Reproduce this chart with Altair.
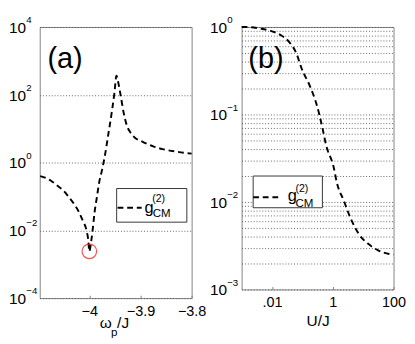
import altair as alt
import pandas as pd

# ---------------- data ----------------
# panel (a): g2 vs omega_p/J
wa_x = [-4.096, -4.085, -4.075, -4.063, -4.051, -4.04, -4.03, -4.0205, -4.012, -4.0055,
        -4.002, -4.0, -3.998, -3.9964, -3.993, -3.99, -3.985, -3.981, -3.975, -3.969,
        -3.963, -3.957, -3.951, -3.947, -3.944, -3.939, -3.933, -3.927, -3.919, -3.911,
        -3.9, -3.893, -3.875, -3.857, -3.83, -3.8]
wa_y = [0.40, 0.35, 0.29, 0.21, 0.15, 0.095, 0.06, 0.035, 0.018, 0.010,
        0.005, 0.0024, 0.0032, 0.0047, 0.012, 0.032, 0.1, 0.25, 0.62, 1.8,
        6.7, 25, 112, 365, 250, 100, 30, 12.8, 7.5, 5.4,
        4.4, 3.9, 3.0, 2.5, 2.1, 1.83]
circle_x = [-4.0]
circle_y = [0.0024]

# panel (b): g2 vs U/J
ub_x = [0.001, 0.002, 0.004, 0.0083, 0.0192, 0.037, 0.065, 0.093, 0.178, 0.30,
        0.45, 0.60, 1.1, 1.34, 2.27, 3.8, 7.2, 15, 31, 73, 100]
ub_y = [1.0, 0.995, 0.96, 0.91, 0.81, 0.67, 0.49, 0.34, 0.21, 0.127,
        0.072, 0.045, 0.024, 0.017, 0.0105, 0.0066, 0.0043, 0.0033, 0.0028, 0.00254, 0.0025]

# ticks
ya_ticks = [0.0001, 0.01, 1, 100, 10000]
ya_exps = ["−4", "−2", "0", "2", "4"]
xa_ticks = [-4, -3.9, -3.8]
yb_major = [0.001, 0.01, 0.1, 1]
yb_exps = ["−3", "−2", "−1", "0"]
yb_grid = sorted(set([round(k * 10.0 ** e, 6) for e in (-3, -2, -1) for k in range(1, 10)] + [1]))
xb_ticks = [0.01, 1, 100]
xb_labels = [".01", "1", "100"]

legend_main = "g"
legend_sup = "(2)"
legend_sub = "CM"

FONT = "Liberation Sans"
WA, HA = 158, 282
WB, HB = 158, 273


def lab_expr(vals, labs):
    s = "''"
    for v, l in zip(reversed(vals), reversed(labs)):
        s = f"datum.value === {repr(v)} ? '{l}' : ({s})"
    return s


one = pd.DataFrame({"k": [0]})


def txt(text, x, y, size, align="left"):
    return alt.Chart(one).mark_text(text=text, font=FONT, fontSize=size, align=align,
                                    baseline="alphabetic", color="black").encode(
        x=alt.value(x), y=alt.value(y))


def legend_layers(bx, bx2, by, by2, lx, lx2, ly, gx, gy, sx, sy, cx, cy):
    box = alt.Chart(one).mark_rect(fill="white", stroke="#333333", strokeWidth=1).encode(
        x=alt.value(bx), x2=alt.value(bx2), y=alt.value(by), y2=alt.value(by2))
    dash = alt.Chart(one).mark_rule(color="black", strokeWidth=2, strokeDash=[6, 4]).encode(
        x=alt.value(lx), x2=alt.value(lx2), y=alt.value(ly))
    return [box, dash, txt(legend_main, gx, gy, 17), txt(legend_sup, sx, sy, 11),
            txt(legend_sub, cx, cy, 12)]


def ytick_layers(vals, exps, yenc_field, scale, axis, x0):
    d = pd.DataFrame({yenc_field: vals, "e": exps})
    yv = alt.Y(f"{yenc_field}:Q", scale=scale, axis=axis)
    base = alt.Chart(d).mark_text(text="10", font=FONT, fontSize=16, align="left",
                                  baseline="alphabetic", dy=6, color="black").encode(
        x=alt.value(x0), y=yv)
    ex = alt.Chart(d).mark_text(font=FONT, fontSize=10, align="left",
                                baseline="alphabetic", dy=-4, color="black").encode(
        x=alt.value(x0 + 18), y=yv, text="e:N")
    return [base, ex]


# ---------------- panel (a) ----------------
dfa = pd.DataFrame({"x": wa_x, "y": wa_y})
dfc = pd.DataFrame({"x": circle_x, "y": circle_y})
sya = alt.Scale(type="log", domain=[1e-4, 1e4], nice=False)
axya = alt.Axis(values=ya_ticks, labels=False, title=None, grid=True)

xa = alt.X("x:Q", scale=alt.Scale(domain=[-4.097, -3.8], nice=False, zero=False),
           axis=alt.Axis(values=xa_ticks, format="~g", title=None, grid=False,
                         labelFlush=False, offset=-3, ticks=True, tickSize=3,
                         tickColor="#808080", labelPadding=6))
ya = alt.Y("y:Q", scale=sya, axis=axya)

line_a = alt.Chart(dfa).mark_line(color="black", strokeWidth=2, strokeDash=[6, 4],
                                  interpolate="monotone").encode(x=xa, y=ya)
circ = alt.Chart(dfc).mark_point(shape="circle", filled=False, color="red", size=230,
                                 strokeWidth=1.2).encode(x="x:Q", y=ya)

ca = WA / 2
title_a = [txt("ω", ca - 16.5, HA + 31, 16), txt("p", ca - 4.8, HA + 39, 12),
           txt("/J", ca + 1.5, HA + 31, 16)]

panel_a = alt.layer(line_a, circ, txt("(a)", 8, 43, 30),
                    *ytick_layers(ya_ticks, ya_exps, "y", sya, axya, -32),
                    *title_a,
                    *legend_layers(80, 153, 168, 203, 81, 106, 188, 109, 193, 117, 182.5, 117.5, 197.5)
                    ).properties(width=WA, height=HA)

# ---------------- panel (b) ----------------
dfb = pd.DataFrame({"x": ub_x, "y": ub_y})
syb = alt.Scale(type="log", domain=[0.001, 1], nice=False)
axyb = alt.Axis(values=yb_grid, labels=False, title=None, grid=True)
xb = alt.X("x:Q", scale=alt.Scale(type="log", domain=[0.001, 100], nice=False),
           axis=alt.Axis(values=xb_ticks, labelExpr=lab_expr(xb_ticks, xb_labels), title="U/J",
                         grid=False, labelFlush=False, offset=-3, ticks=True, tickSize=3,
                         tickColor="#808080", labelPadding=6, titlePadding=3))
yb = alt.Y("y:Q", scale=syb, axis=axyb)
line_b = alt.Chart(dfb).mark_line(color="black", strokeWidth=2, strokeDash=[6, 4],
                                  interpolate="monotone").encode(x=xb, y=yb)

panel_b = alt.layer(line_b, txt("(b)", 7, 43, 30),
                    *ytick_layers(yb_major, yb_exps, "y", syb, axyb, -33),
                    *legend_layers(12, 84, 155, 188, 12, 39, 177, 48, 181, 56, 172, 56, 187)
                    ).properties(width=WB, height=HB)

chart = alt.hconcat(panel_a, panel_b, spacing=52, bounds="flush").properties(
    padding={"left": 0, "top": 0, "right": 0, "bottom": 0}
).configure_view(stroke="#808080", strokeWidth=1).configure_axis(
    domain=False, ticks=False, labelFont=FONT, labelFontSize=15, labelColor="black",
    titleFont=FONT, titleFontSize=16, titleFontWeight="normal", titleColor="black",
    gridColor="#505050", gridDash=[1, 2], gridWidth=0.9
).configure_concat(spacing=52)

chart.save("out.html", embed_options={"renderer": "svg", "actions": False})
